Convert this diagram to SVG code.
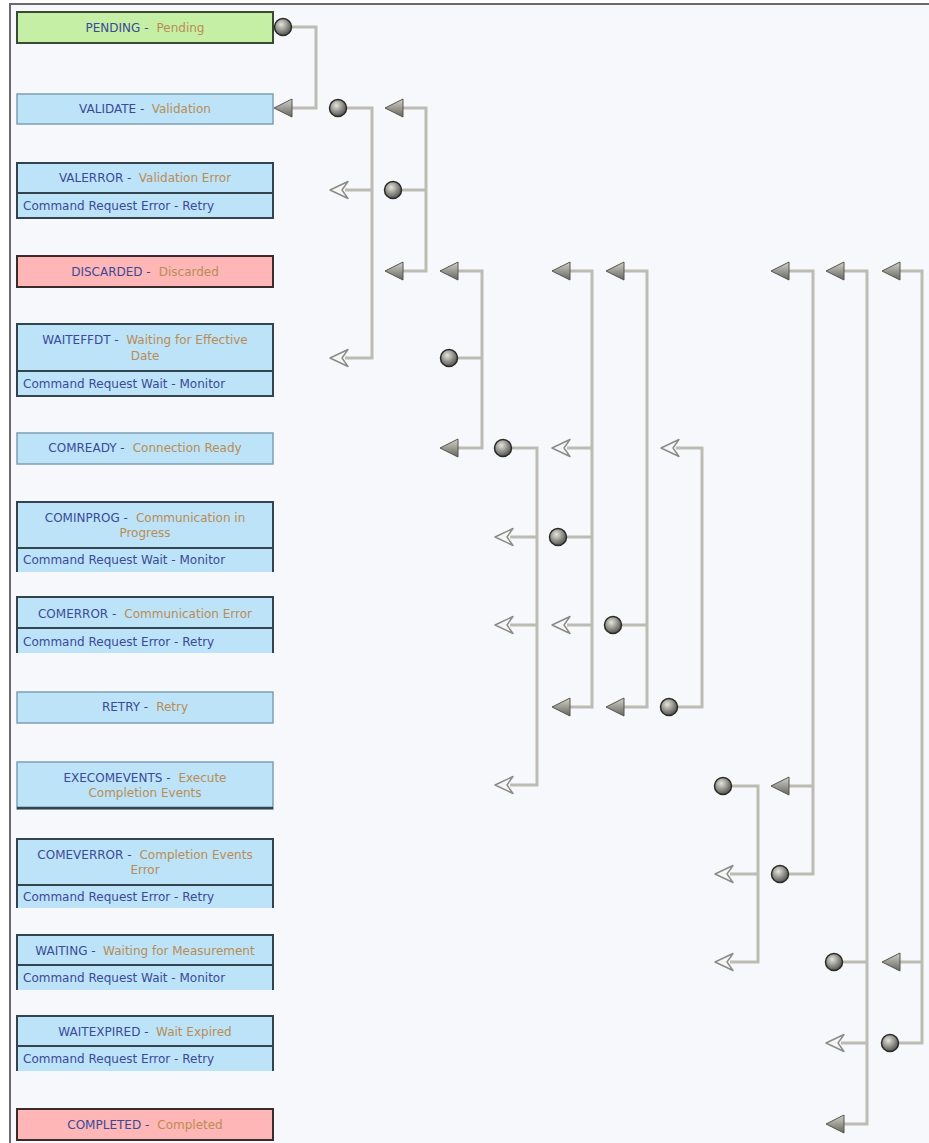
<svg xmlns="http://www.w3.org/2000/svg" width="929" height="1143" viewBox="0 0 929 1143">
<style>
text{font-family:"DejaVu Sans","Liberation Sans",sans-serif;font-size:12px}
.m{text-anchor:middle}
.c{fill:#3a4a98}
.d{fill:#b88d55}
.bb{fill:#bde3f8}
.bg{fill:#c6efa6}
.bp{fill:#ffb6b6}
.kd{fill:none;stroke:#34444e;stroke-width:2}
.kl{fill:none;stroke:#7f9fb3;stroke-width:1.5}
.kr{fill:none;stroke:#3a2c2c;stroke-width:2}
.ln{fill:none;stroke:#bcbcb2;stroke-width:3}
.af{fill:url(#ag);stroke:#55554f;stroke-width:1}
.ao{fill:#f6f6f6;stroke:#8a8a86;stroke-width:1.4;stroke-linejoin:round}
.dt{fill:url(#dg);stroke:#2a2a28;stroke-width:1.5}
</style>
<defs>
<radialGradient id="dg" cx="0.4" cy="0.35" r="0.7">
<stop offset="0" stop-color="#e4e4dc"/>
<stop offset="0.55" stop-color="#8e8e88"/>
<stop offset="1" stop-color="#4a4a46"/>
</radialGradient>
<linearGradient id="ag" x1="0" y1="0" x2="0" y2="1">
<stop offset="0" stop-color="#d2d2ca"/>
<stop offset="1" stop-color="#66665f"/>
</linearGradient>
<path id="F" class="af" d="M0,0 L18,-9 L18,9 Z"/>
<path id="O" class="ao" d="M0,0 L18,-8.5 L12,0 L18,8.5 Z"/>
<circle id="D" class="dt" r="8.5"/>
</defs>

<rect x="0" y="0" width="929" height="1143" fill="#ffffff"/>
<rect x="10" y="4" width="919" height="1139" fill="#f7f8fc"/>
<path d="M10,1143 V4 H929" fill="none" stroke="#6a6a6a" stroke-width="2"/>

<g id="PENDING">
<rect x="17" y="12" width="256" height="31" class="bg"/>
<rect x="17" y="12" width="256" height="31" fill="none" stroke="#3a4a34" stroke-width="2"/>
<text x="145" y="32" class="m"><tspan class="c">PENDING -</tspan><tspan class="d" dx="8">Pending</tspan></text>
</g>
<g id="VALIDATE">
<rect x="17" y="94" width="256" height="30" class="bb"/>
<rect x="17" y="94" width="256" height="30" class="kl"/>
<text x="145" y="113" class="m"><tspan class="c">VALIDATE -</tspan><tspan class="d" dx="8">Validation</tspan></text>
</g>
<g id="VALERROR">
<rect x="17" y="163" width="256" height="55" class="bb"/>
<rect x="17" y="163" width="256" height="55" class="kd"/>
<path d="M17,193 H273" class="kd"/>
<text x="145" y="182" class="m"><tspan class="c">VALERROR -</tspan><tspan class="d" dx="8">Validation Error</tspan></text>
<text x="23" y="210" class="c">Command Request Error - Retry</text>
</g>
<g id="DISCARDED">
<rect x="17" y="256" width="256" height="31" class="bp"/>
<rect x="17" y="256" width="256" height="31" class="kr"/>
<text x="145" y="276" class="m"><tspan class="c">DISCARDED -</tspan><tspan class="d" dx="8">Discarded</tspan></text>
</g>
<g id="WAITEFFDT">
<rect x="17" y="324" width="256" height="72" class="bb"/>
<rect x="17" y="324" width="256" height="72" class="kd"/>
<path d="M17,371 H273" class="kd"/>
<text x="145" y="344" class="m"><tspan class="c">WAITEFFDT -</tspan><tspan class="d" dx="8">Waiting for Effective</tspan></text>
<text x="145" y="360" class="m d">Date</text>
<text x="23" y="388" class="c">Command Request Wait - Monitor</text>
</g>
<g id="COMREADY">
<rect x="17" y="433" width="256" height="31" class="bb"/>
<rect x="17" y="433" width="256" height="31" class="kl"/>
<text x="145" y="452" class="m"><tspan class="c">COMREADY -</tspan><tspan class="d" dx="8">Connection Ready</tspan></text>
</g>
<g id="COMINPROG">
<rect x="17" y="502" width="256" height="70" class="bb"/>
<path d="M17,572 V502 H273 V572 M17,548 H273" class="kd"/>
<text x="145" y="522" class="m"><tspan class="c">COMINPROG -</tspan><tspan class="d" dx="8">Communication in</tspan></text>
<text x="145" y="537" class="m d">Progress</text>
<text x="23" y="564" class="c">Command Request Wait - Monitor</text>
</g>
<g id="COMERROR">
<rect x="17" y="597" width="256" height="56" class="bb"/>
<path d="M17,653 V597 H273 V653 M17,628 H273" class="kd"/>
<text x="145" y="618" class="m"><tspan class="c">COMERROR -</tspan><tspan class="d" dx="8">Communication Error</tspan></text>
<text x="23" y="646" class="c">Command Request Error - Retry</text>
</g>
<g id="RETRY">
<rect x="17" y="692" width="256" height="31" class="bb"/>
<rect x="17" y="692" width="256" height="31" class="kl"/>
<text x="145" y="711" class="m"><tspan class="c">RETRY -</tspan><tspan class="d" dx="8">Retry</tspan></text>
</g>
<g id="EXECOMEVENTS">
<rect x="17" y="762" width="256" height="47" class="bb"/>
<rect x="17" y="762" width="256" height="47" class="kl"/>
<path d="M17,808 H273" fill="none" stroke="#34444e" stroke-width="2.5"/>
<text x="145" y="782" class="m"><tspan class="c">EXECOMEVENTS -</tspan><tspan class="d" dx="8">Execute</tspan></text>
<text x="145" y="797" class="m d">Completion Events</text>
</g>
<g id="COMEVERROR">
<rect x="17" y="839" width="256" height="69" class="bb"/>
<path d="M17,908 V839 H273 V908 M17,885 H273" class="kd"/>
<text x="145" y="859" class="m"><tspan class="c">COMEVERROR -</tspan><tspan class="d" dx="8">Completion Events</tspan></text>
<text x="145" y="874" class="m d">Error</text>
<text x="23" y="901" class="c">Command Request Error - Retry</text>
</g>
<g id="WAITING">
<rect x="17" y="935" width="256" height="55" class="bb"/>
<path d="M17,990 V935 H273 V990 M17,965 H273" class="kd"/>
<text x="145" y="955" class="m"><tspan class="c">WAITING -</tspan><tspan class="d" dx="8">Waiting for Measurement</tspan></text>
<text x="23" y="982" class="c">Command Request Wait - Monitor</text>
</g>
<g id="WAITEXPIRED">
<rect x="17" y="1016" width="256" height="55" class="bb"/>
<path d="M17,1071 V1016 H273 V1071 M17,1046 H273" class="kd"/>
<text x="145" y="1036" class="m"><tspan class="c">WAITEXPIRED -</tspan><tspan class="d" dx="8">Wait Expired</tspan></text>
<text x="23" y="1063" class="c">Command Request Error - Retry</text>
</g>
<g id="COMPLETED">
<rect x="17" y="1109" width="256" height="31" class="bp"/>
<rect x="17" y="1109" width="256" height="31" class="kr"/>
<text x="145" y="1129" class="m"><tspan class="c">COMPLETED -</tspan><tspan class="d" dx="8">Completed</tspan></text>
</g>

<g id="connectors">
<g class="ln">
<path d="M291,27 H316 V108 H290"/>
<path d="M346,108 H372 V358 H345 M345,190 H372"/>
<path d="M401,190 H426 M400,108 H426 V271 H400"/>
<path d="M457,358 H482 M455,271 H482 V448 H455"/>
<path d="M511,448 H537 V785 H510 M510,537 H537 M510,625 H537"/>
<path d="M566,537 H592 M567,271 H592 V707 H567 M567,448 H592 M567,625 H592"/>
<path d="M621,625 H647 M621,271 H647 V707 H621"/>
<path d="M677,707 H702 V448 H676"/>
<path d="M731,786 H758 V962 H730 M730,874 H758"/>
<path d="M788,874 H813 V271 H786 M786,786 H813"/>
<path d="M842,962 H867 M841,271 H867 V1124 H841 M841,1043 H867"/>
<path d="M898,1043 H922 V271 H897 M897,962 H922"/>
</g>
<use href="#D" x="283" y="27"/>
<use href="#F" x="274" y="108"/>
<use href="#D" x="338" y="108"/>
<use href="#O" x="330" y="190"/>
<use href="#O" x="330" y="358"/>
<use href="#D" x="393" y="190"/>
<use href="#F" x="385" y="108"/>
<use href="#F" x="385" y="271"/>
<use href="#D" x="449" y="358"/>
<use href="#F" x="440" y="271"/>
<use href="#F" x="440" y="448"/>
<use href="#D" x="503" y="448"/>
<use href="#O" x="495" y="537"/>
<use href="#O" x="495" y="625"/>
<use href="#O" x="495" y="785"/>
<use href="#D" x="558" y="537"/>
<use href="#F" x="552" y="271"/>
<use href="#O" x="552" y="448"/>
<use href="#O" x="552" y="625"/>
<use href="#F" x="552" y="707"/>
<use href="#D" x="613" y="625"/>
<use href="#F" x="606" y="271"/>
<use href="#F" x="606" y="707"/>
<use href="#D" x="669" y="707"/>
<use href="#O" x="661" y="448"/>
<use href="#D" x="723" y="786"/>
<use href="#O" x="715" y="874"/>
<use href="#O" x="715" y="962"/>
<use href="#D" x="780" y="874"/>
<use href="#F" x="771" y="271"/>
<use href="#F" x="771" y="786"/>
<use href="#D" x="834" y="962"/>
<use href="#F" x="826" y="271"/>
<use href="#O" x="826" y="1043"/>
<use href="#F" x="826" y="1124"/>
<use href="#D" x="890" y="1043"/>
<use href="#F" x="882" y="271"/>
<use href="#F" x="882" y="962"/>
</g>
</svg>
